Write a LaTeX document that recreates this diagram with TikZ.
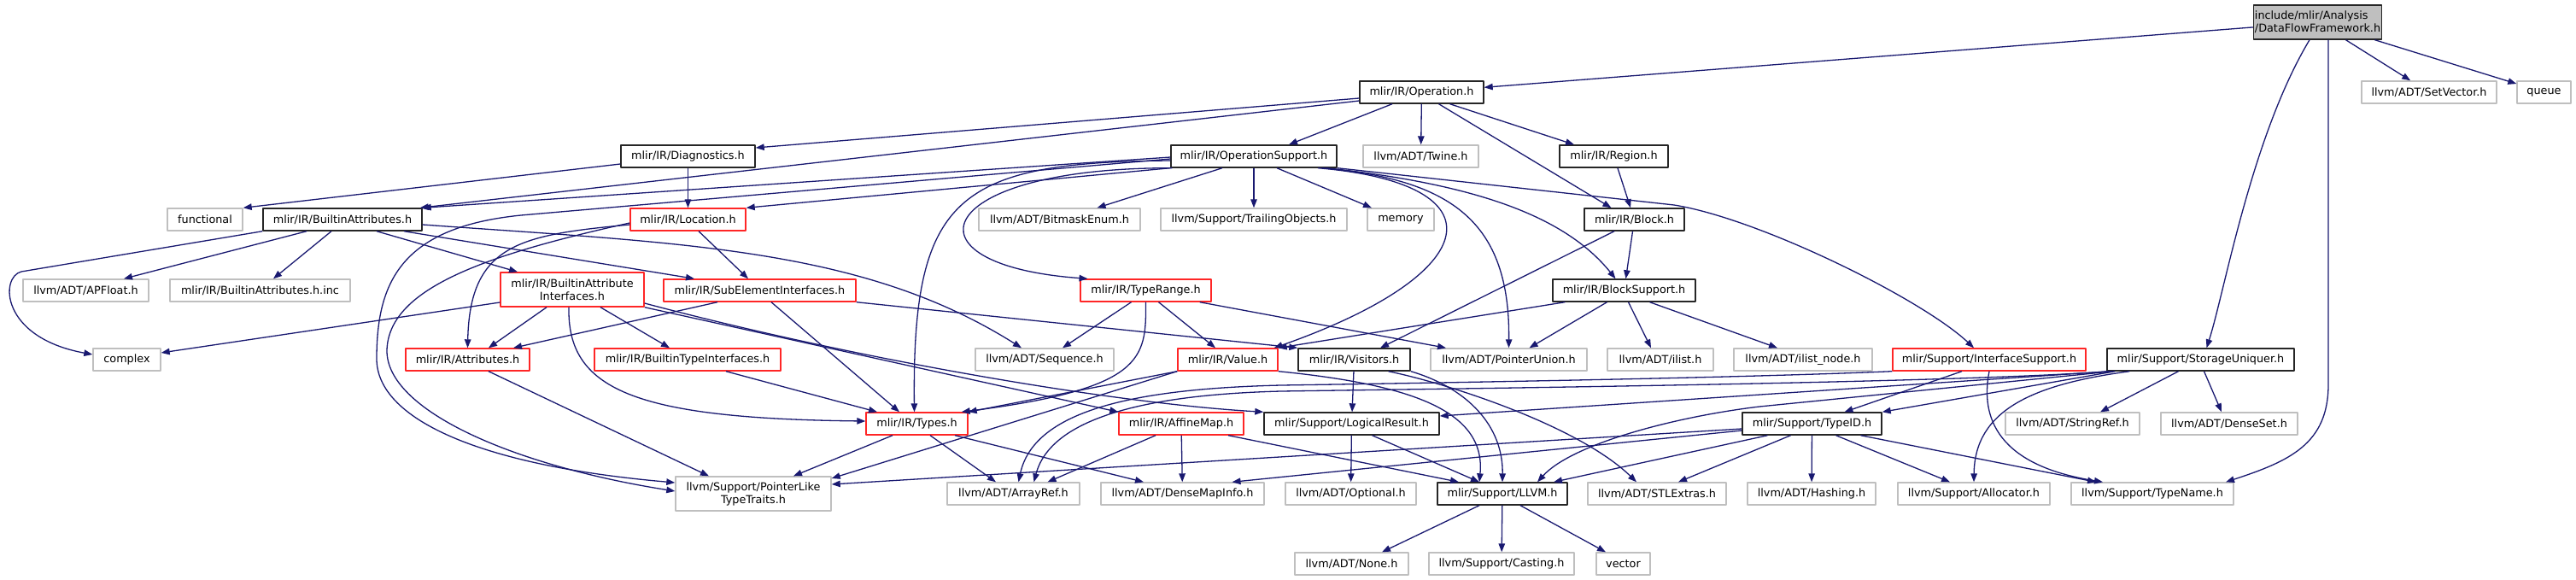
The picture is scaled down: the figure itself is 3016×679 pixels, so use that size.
\documentclass[tikz,border=0pt]{standalone}
\usepackage{fontspec}
\setmainfont{DejaVu Sans}
\usetikzlibrary{arrows.meta}

\definecolor{edgeblue}{HTML}{191970}
\definecolor{greyline}{HTML}{BFBFBF}
\definecolor{rootfill}{HTML}{BFBFBF}
\definecolor{cutred}{HTML}{FF2626}

\begin{document}
\begin{tikzpicture}[x=1pt, y=-1pt, >={Triangle[length=10pt,width=7.5pt]}, line join=round,
	font=\fontsize{12.8}{15}\selectfont,
	box/.style={draw, line width=1.4pt, fill=white, inner sep=0pt, minimum height=26pt, align=center},
	doc/.style={box, draw=black!85},
	ext/.style={box, draw=greyline},
	cut/.style={box, draw=cutred},
	root/.style={box, draw=black!85, fill=rootfill, minimum height=40pt, align=left},
	edge/.style={->, draw=edgeblue, line width=1.3pt}]
	
	\useasboundingbox (0,0) rectangle (3016,679);
	
	% ==========================================
	% 1. CÁC FILE HEADER (xếp theo từng hàng)
	% ==========================================
	% hàng 0
	\node[root, minimum width=150pt] (dff) at (2713.5,26) {include/mlir/Analysis\\/DataFlowFramework.h};
	% hàng 1
	\node[doc, minimum width=145pt] (op) at (1664.5,108) {mlir/IR/Operation.h};
	\node[ext, minimum width=158pt] (setvec) at (2844,108) {llvm/ADT/SetVector.h};
	\node[ext, minimum width=63pt] (queue) at (2978.5,108) {queue};
	% hàng 2
	\node[doc, minimum width=157pt] (diag) at (805.5,183) {mlir/IR/Diagnostics.h};
	\node[doc, minimum width=194pt] (opsup) at (1468,183) {mlir/IR/OperationSupport.h};
	\node[ext, minimum width=135pt] (twine) at (1663.5,183) {llvm/ADT/Twine.h};
	\node[doc, minimum width=127pt] (region) at (1889.5,183) {mlir/IR/Region.h};
	% hàng 3
	\node[ext, minimum width=88pt] (functional) at (240,257) {functional};
	\node[doc, minimum width=186pt] (battr) at (401,257) {mlir/IR/BuiltinAttributes.h};
	\node[cut, minimum width=135pt] (loc) at (805.5,257) {mlir/IR/Location.h};
	\node[ext, minimum width=189pt] (bitmask) at (1240.5,257) {llvm/ADT/BitmaskEnum.h};
	\node[ext, minimum width=218pt] (trailing) at (1468,257) {llvm/Support/TrailingObjects.h};
	\node[ext, minimum width=78pt] (memory) at (1640,257) {memory};
	\node[doc, minimum width=117pt] (block) at (1913.5,257) {mlir/IR/Block.h};
	% hàng 4
	\node[ext, minimum width=147pt] (apfloat) at (100.5,340) {llvm/ADT/APFloat.h};
	\node[ext, minimum width=211pt] (battrinc) at (304.5,340) {mlir/IR/BuiltinAttributes.h.inc};
	\node[cut, minimum width=168pt, minimum height=40pt] (baif) at (670,339) {mlir/IR/BuiltinAttribute\\Interfaces.h};
	\node[cut, minimum width=225pt] (subel) at (889.5,340) {mlir/IR/SubElementInterfaces.h};
	\node[cut, minimum width=153pt] (trange) at (1341.5,340) {mlir/IR/TypeRange.h};
	\node[doc, minimum width=167pt] (blocksup) at (1901.5,340) {mlir/IR/BlockSupport.h};
	% hàng 5
	\node[ext, minimum width=79pt] (complex) at (148.5,421) {complex};
	\node[cut, minimum width=145pt] (attrs) at (547.5,421) {mlir/IR/Attributes.h};
	\node[cut, minimum width=218pt] (btif) at (805,421) {mlir/IR/BuiltinTypeInterfaces.h};
	\node[ext, minimum width=162pt] (seq) at (1223,421) {llvm/ADT/Sequence.h};
	\node[cut, minimum width=117pt] (value) at (1437.5,421) {mlir/IR/Value.h};
	\node[doc, minimum width=131pt] (visitors) at (1585.5,421) {mlir/IR/Visitors.h};
	\node[ext, minimum width=183pt] (punion) at (1766.5,421) {llvm/ADT/PointerUnion.h};
	\node[ext, minimum width=124pt] (ilist) at (1944,421) {llvm/ADT/ilist.h};
	\node[ext, minimum width=162pt] (ilistnode) at (2111,421) {llvm/ADT/ilist\_node.h};
	\node[cut, minimum width=226pt] (ifsup) at (2329,421) {mlir/Support/InterfaceSupport.h};
	\node[doc, minimum width=219pt] (storage) at (2576.5,421) {mlir/Support/StorageUniquer.h};
	% hàng 6
	\node[cut, minimum width=119pt] (types) at (1073.5,496) {mlir/IR/Types.h};
	\node[cut, minimum width=146pt] (affine) at (1383,496) {mlir/IR/AffineMap.h};
	\node[doc, minimum width=205pt] (logres) at (1582.5,496) {mlir/Support/LogicalResult.h};
	\node[doc, minimum width=163pt] (typeid) at (2121.5,496) {mlir/Support/TypeID.h};
	\node[ext, minimum width=157pt] (stringref) at (2426.5,496) {llvm/ADT/StringRef.h};
	\node[ext, minimum width=160pt] (denseset) at (2610,496) {llvm/ADT/DenseSet.h};
	% hàng 7
	\node[ext, minimum width=182pt, minimum height=40pt] (ptrlike) at (882,578) {llvm/Support/PointerLike\\TypeTraits.h};
	\node[ext, minimum width=155pt] (arrayref) at (1186.5,578) {llvm/ADT/ArrayRef.h};
	\node[ext, minimum width=191pt] (densemap) at (1384.5,578) {llvm/ADT/DenseMapInfo.h};
	\node[ext, minimum width=153pt] (optional) at (1581.5,578) {llvm/ADT/Optional.h};
	\node[doc, minimum width=152pt] (llvmh) at (1759,578) {mlir/Support/LLVM.h};
	\node[ext, minimum width=162pt] (stlextras) at (1940,578) {llvm/ADT/STLExtras.h};
	\node[ext, minimum width=150pt] (hashing) at (2121,578) {llvm/ADT/Hashing.h};
	\node[ext, minimum width=178pt] (allocator) at (2311,578) {llvm/Support/Allocator.h};
	\node[ext, minimum width=190pt] (typename) at (2520,578) {llvm/Support/TypeName.h};
	% hàng 8
	\node[ext, minimum width=133pt] (none) at (1582.5,660) {llvm/ADT/None.h};
	\node[ext, minimum width=170pt] (casting) at (1758,660) {llvm/Support/Casting.h};
	\node[ext, minimum width=63pt] (vector) at (1900.5,660) {vector};
	
	% ==========================================
	% 2. CÁC MŨI TÊN #include
	% ==========================================
	% nối thẳng tâm - tâm
	\foreach \a/\b in {dff/op, dff/setvec, dff/queue, op/twine, diag/loc, opsup/trailing,
		region/block, block/blocksup, visitors/logres, affine/densemap, logres/optional,
		typeid/hashing, llvmh/casting} {
		\draw[edge] (\a) -- (\b);
	}
	
	% DataFlowFramework.h
	\draw[edge] ([xshift=-9.5pt]dff.south) .. controls (2636,160) and (2605,340) .. ([xshift=7pt]storage.north);
	\draw[edge] ([xshift=12.5pt]dff.south) -- (2726,450) .. controls (2726,520) and (2680,540) .. ([xshift=86pt]typename.north);
	
	% Operation.h
	\draw[edge] ([xshift=-34.5pt]op.south) -- ([xshift=41pt]opsup.north);
	\draw[edge] ([xshift=20pt]op.south) -- ([xshift=-27pt]block.north);
	\draw[edge] ([xshift=33pt]op.south) -- ([xshift=-46.5pt]region.north);
	\draw[edge] ([yshift=-7pt]op.west) -- ([yshift=10pt]diag.east);
	\draw[edge] ([yshift=-10pt]op.west) -- ([xshift=-3pt]battr.north east);
	
	% Diagnostics.h
	\draw[edge] ([yshift=-9pt]diag.west) -- (functional.north east);
	
	% OperationSupport.h
	\draw[edge] ([yshift=-1pt]opsup.west) -- (battr.north east);
	\draw[edge] (opsup.south west) -- (loc.north east);
	\draw[edge] ([xshift=-37pt]opsup.south) -- ([xshift=44pt]bitmask.north);
	\draw[edge] ([xshift=27pt]opsup.south) -- ([xshift=-34pt]memory.north);
	\draw[edge] ([yshift=-5pt]opsup.west) .. controls (1120,190) and (1068,230) .. ([xshift=-3pt]types.north);
	\draw[edge] ([xshift=2pt]opsup.south west) .. controls (1090,196) and (1050,310) .. ([xshift=-68pt]trange.north);
	\draw[edge] ([yshift=-3pt]opsup.west) -- (610,252) .. controls (470,266) and (441,330) .. (441,420)
		.. controls (441,490) and (560,545) .. ([yshift=13pt]ptrlike.west);
	\draw[edge] ([xshift=75pt]opsup.south) .. controls (1760,215) and (1740,320) .. ([xshift=-5pt]value.north east);
	\draw[edge] ([xshift=80pt]opsup.south) .. controls (1700,210) and (1768,260) .. (punion.north);
	\draw[edge] ([xshift=85pt]opsup.south) .. controls (1720,215) and (1830,250) .. ([xshift=-10pt]blocksup.north);
	\draw[edge] (opsup.south east) -- (1960,240) .. controls (2060,256) and (2250,350) .. ([xshift=-18pt]ifsup.north);
	
	% BuiltinAttributes.h
	\draw[edge] (battr.south west) -- (25,318) .. controls (0,324) and (0,395) .. ([yshift=6pt]complex.west);
	\draw[edge] ([xshift=-42pt]battr.south) -- ([xshift=44.5pt]apfloat.north);
	\draw[edge] ([xshift=-13pt]battr.south) -- ([xshift=15.5pt]battrinc.north);
	\draw[edge] ([xshift=40pt]battr.south) -- ([xshift=-64pt]baif.north);
	\draw[edge] ([xshift=72pt]battr.south) -- ([xshift=-76.5pt]subel.north);
	\draw[edge] ([yshift=-6pt]battr.east) .. controls (800,285) and (1010,290) .. ([xshift=-27pt]seq.north);
	
	% Location.h
	\draw[edge] ([xshift=12.5pt]loc.south) -- ([xshift=-13.5pt]subel.north);
	\draw[edge] ([yshift=-6pt]loc.west) .. controls (610,275) and (550,285) .. (attrs.north);
	\draw[edge] ([yshift=-4pt]loc.west) .. controls (560,300) and (455,340) .. (453,410)
		.. controls (452,480) and (600,545) .. ([yshift=3pt]ptrlike.west);
	
	% BuiltinAttributeInterfaces.h
	\draw[edge] ([yshift=-15pt]baif.west) -- ([yshift=8pt]complex.east);
	\draw[edge] ([xshift=-30pt]baif.south) -- ([xshift=24.5pt]attrs.north);
	\draw[edge] ([xshift=-4pt]baif.south) .. controls (664,455) and (740,490) .. ([yshift=3pt]types.west);
	\draw[edge] ([xshift=33pt]baif.south) -- ([xshift=-21pt]btif.north);
	\draw[edge] (baif.south east) -- (affine.north west);
	\draw[edge] ([yshift=-16pt]baif.east) .. controls (1000,420) and (1300,472) .. (logres.north west);
	
	% SubElementInterfaces.h
	\draw[edge] ([xshift=-49.5pt]subel.south) -- ([xshift=53.5pt]attrs.north);
	\draw[edge] ([xshift=13.5pt]subel.south) -- ([xshift=-20.5pt]types.north);
	\draw[edge] (subel.south east) -- (visitors.north west);
	
	% TypeRange.h
	\draw[edge] ([xshift=-17pt]trange.south) -- ([xshift=21pt]seq.north);
	\draw[edge] (trange.south) .. controls (1342,420) and (1340,455) .. ([xshift=-8pt]types.north east);
	\draw[edge] ([xshift=15pt]trange.south) -- ([xshift=-14.5pt]value.north);
	\draw[edge] ([xshift=-14pt]trange.south east) -- ([xshift=-73.5pt]punion.north);
	
	% BlockSupport.h, Block.h
	\draw[edge] ([xshift=15pt]blocksup.south west) -- (value.north east);
	\draw[edge] ([xshift=-20pt]blocksup.south) -- ([xshift=24pt]punion.north);
	\draw[edge] ([xshift=5pt]blocksup.south) -- ([xshift=-11pt]ilist.north);
	\draw[edge] ([xshift=30pt]blocksup.south) -- ([xshift=-30pt]ilistnode.north);
	\draw[edge] ([xshift=-23.5pt]block.south) -- ([xshift=30.5pt]visitors.north);
	
	% Attributes.h, BuiltinTypeInterfaces.h
	\draw[edge] ([xshift=24.5pt]attrs.south) -- ([xshift=-52pt]ptrlike.north);
	\draw[edge] ([xshift=45pt]btif.south) -- ([xshift=-46.5pt]types.north);
	
	% Value.h
	\draw[edge] (value.south west) -- (types.north east);
	\draw[edge] (value.south west) -- ([yshift=18pt]ptrlike.east);
	\draw[edge] (value.south east) .. controls (1650,450) and (1740,480) .. ([xshift=-27pt]llvmh.north);
	
	% Visitors.h
	\draw[edge] (visitors.south east) .. controls (1720,455) and (1760,500) .. (llvmh.north);
	\draw[edge] ([xshift=40pt]visitors.south) .. controls (1700,450) and (1850,500) .. ([xshift=-24pt]stlextras.north);
	
	% Types.h, AffineMap.h, LogicalResult.h
	\draw[edge] ([xshift=-28.5pt]types.south) -- ([xshift=47pt]ptrlike.north);
	\draw[edge] ([xshift=15.5pt]types.south) -- ([xshift=-20.5pt]arrayref.north);
	\draw[edge] ([xshift=44.5pt]types.south) -- ([xshift=-45.5pt]densemap.north);
	\draw[edge] ([xshift=-30pt]affine.south) -- ([xshift=40pt]arrayref.north);
	\draw[edge] ([xshift=55pt]affine.south) -- ([xshift=-51pt]llvmh.north);
	\draw[edge] ([xshift=24pt]logres.south) -- ([xshift=-27pt]llvmh.north);
	
	% LLVM.h
	\draw[edge] ([xshift=-27pt]llvmh.south) -- ([xshift=35.5pt]none.north);
	\draw[edge] ([xshift=21pt]llvmh.south) -- ([xshift=-20.5pt]vector.north);
	
	% TypeID.h
	\draw[edge] ([xshift=-52pt]typeid.south) -- ([xshift=60pt]llvmh.north);
	\draw[edge] ([xshift=-25pt]typeid.south) -- ([xshift=25pt]stlextras.north);
	\draw[edge] ([xshift=28pt]typeid.south) -- ([xshift=-28pt]allocator.north);
	\draw[edge] ([xshift=57pt]typeid.south) -- ([xshift=-66pt]typename.north);
	\draw[edge] ([yshift=-6pt]typeid.west) -- ([yshift=11pt]ptrlike.east);
	\draw[edge] ([yshift=-8pt]typeid.west) -- ([xshift=58pt]densemap.north);
	
	% InterfaceSupport.h
	\draw[edge] ([xshift=-32pt]ifsup.south) -- ([xshift=38pt]typeid.north);
	\draw[edge] (ifsup.south) .. controls (2318,490) and (2340,545) .. ([xshift=-58pt]typename.north);
	\draw[edge] (ifsup.south west) .. controls (2050,442) and (1700,448) .. (1500,451)
		.. controls (1330,455) and (1210,480) .. ([xshift=6pt]arrayref.north);
	
	% StorageUniquer.h
	\draw[edge] ([xshift=3pt]storage.south west) .. controls (2300,448) and (1700,455) .. (1500,458)
		.. controls (1340,462) and (1230,490) .. ([xshift=24pt]arrayref.north);
	\draw[edge] ([xshift=5pt]storage.south west) -- ([yshift=9pt]logres.east);
	\draw[edge] ([xshift=10pt]storage.south west) -- (typeid.north east);
	\draw[edge] ([xshift=8pt]storage.south west) -- (2060,476) .. controls (1960,488) and (1840,520) .. ([xshift=41pt]llvmh.north);
	\draw[edge] ([xshift=27pt]storage.south west) .. controls (2380,450) and (2312,480) .. (allocator.north);
	\draw[edge] ([xshift=-26pt]storage.south) -- ([xshift=32.5pt]stringref.north);
	\draw[edge] ([xshift=4pt]storage.south) -- ([xshift=-9pt]denseset.north);
\end{tikzpicture}
\end{document}
